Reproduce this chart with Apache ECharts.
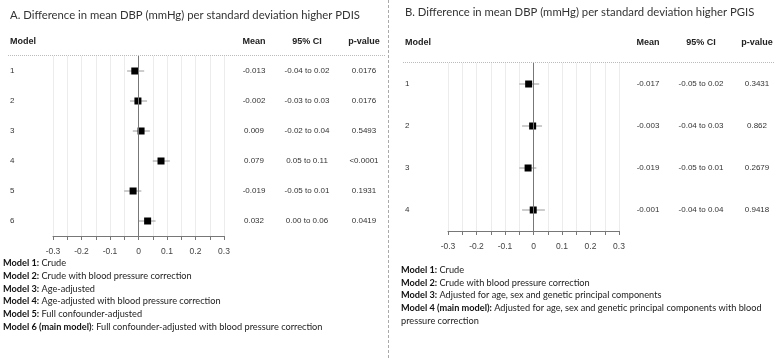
<!DOCTYPE html>
<html>
<head>
<meta charset="utf-8">
<script src="https://cdn.jsdelivr.net/npm/echarts@6/dist/echarts.min.js"></script>
<style>
  html, body { margin: 0; padding: 0; background: #fff; }
  #chart { width: 779px; height: 359px; }
</style>
</head>
<body>
<div id="chart"></div>
<script>
// panel A - per SD higher PDIS
const modelsA = ['1', '2', '3', '4', '5', '6'];
const meanA = [-0.013, -0.002, 0.009, 0.079, -0.019, 0.032];
const lowA = [-0.04, -0.03, -0.02, 0.05, -0.05, 0.00];
const highA = [0.02, 0.03, 0.04, 0.11, 0.01, 0.06];
const pA = ['0.0176', '0.0176', '0.5493', '<0.0001', '0.1931', '0.0419'];

// panel B - per SD higher PGIS
const modelsB = ['1', '2', '3', '4'];
const meanB = [-0.017, -0.003, -0.019, -0.001];
const lowB = [-0.05, -0.04, -0.05, -0.04];
const highB = [0.02, 0.03, 0.01, 0.04];
const pB = ['0.3431', '0.862', '0.2679', '0.9418'];

const xTicks = ['-0.3', '-0.2', '-0.1', '0', '0.1', '0.2', '0.3'];

const notesA = [
  ['Model 1:', ' Crude'],
  ['Model 2:', ' Crude with blood pressure correction'],
  ['Model 3:', ' Age-adjusted'],
  ['Model 4:', ' Age-adjusted with blood pressure correction'],
  ['Model 5:', ' Full confounder-adjusted'],
  ['Model 6 (main model)', ': Full confounder-adjusted with blood pressure correction']
];
const notesB = [
  ['Model 1:', ' Crude'],
  ['Model 2:', ' Crude with blood pressure correction'],
  ['Model 3:', ' Adjusted for age, sex and genetic principal components'],
  ['Model 4 (main model):', ' Adjusted for age, sex and genetic principal components with blood'],
  ['', 'pressure correction']
];

const TXT = '"Liberation Sans", Arial, sans-serif';
const CAL = 'Lato, "Open Sans", sans-serif';

const chart = echarts.init(document.getElementById('chart'));

function tickLabel(v) {
  const k = Math.round(v * 100);
  if (k % 10 !== 0) return '';
  const s = (k / 100).toString();
  return xTicks.indexOf(s) >= 0 ? s : '';
}

function xAxisFor(gi) {
  return {
    type: 'value', gridIndex: gi, min: -0.3, max: 0.3, interval: 0.05,
    axisLine: { show: true, onZero: false, lineStyle: { color: '#777', width: 1 } },
    axisTick: { show: true, length: 4, lineStyle: { color: '#777' } },
    axisLabel: { formatter: tickLabel, fontSize: 8.5, color: '#444', fontFamily: TXT, margin: 11 },
    splitLine: { show: true, lineStyle: { color: '#ececec', width: 1 } }
  };
}

function yAxisFor(gi, n) {
  return { type: 'value', gridIndex: gi, min: 0.5, max: n + 0.5, inverse: true, show: false };
}

function whiskers(gi, low, high) {
  return {
    type: 'custom', xAxisIndex: gi, yAxisIndex: gi, silent: true, z: 3,
    data: low.map((l, i) => [l, high[i], i + 1]),
    renderItem(params, api) {
      const a = api.coord([api.value(0), api.value(2)]);
      const b = api.coord([api.value(1), api.value(2)]);
      return { type: 'line', shape: { x1: a[0], y1: a[1], x2: b[0], y2: b[1] },
        style: { stroke: '#9a9a9a', lineWidth: 1 } };
    }
  };
}

function boxes(gi, mean) {
  return {
    type: 'scatter', xAxisIndex: gi, yAxisIndex: gi, silent: true, z: 4,
    symbol: 'rect', symbolSize: 7,
    itemStyle: { color: '#000', opacity: 1 },
    data: mean.map((m, i) => [m, i + 1]),
    markLine: {
      silent: true, symbol: 'none', label: { show: false },
      lineStyle: { color: '#777', type: 'solid', width: 1 },
      data: [{ xAxis: 0 }]
    }
  };
}

// table text columns aligned to the rows of the plot
function table(gi, models, mean, low, high, p, cols) {
  return {
    type: 'custom', xAxisIndex: gi, yAxisIndex: gi, silent: true, clip: false,
    data: models.map((m, i) => [0, i + 1]),
    renderItem(params, api) {
      const i = params.dataIndex;
      const y = api.coord([0, api.value(1)])[1];
      const t = (x, text, align) => ({
        type: 'text',
        style: { x: x, y: y, text: text, align: align, verticalAlign: 'middle',
          font: '8px ' + TXT, fill: '#333' }
      });
      return { type: 'group', children: [
        t(cols[0], models[i], 'left'),
        t(cols[1], mean[i].toFixed(3), 'center'),
        t(cols[2], low[i].toFixed(2) + ' to ' + high[i].toFixed(2), 'center'),
        t(cols[3], p[i], 'center')
      ] };
    }
  };
}

function header(cols, y) {
  const h = (x, text, align) => ({
    type: 'text', x: x, y: y,
    style: { text: text, align: align, verticalAlign: 'middle', font: 'bold 9px ' + TXT, fill: '#222' }
  });
  return [h(cols[0], 'Model', 'left'), h(cols[1], 'Mean', 'center'),
    h(cols[2], '95% CI', 'center'), h(cols[3], 'p-value', 'center')];
}

function notes(list, x, y0, dy) {
  return list.map((n, i) => ({
    type: 'text', x: x, y: y0 + i * dy,
    style: {
      text: (n[0] ? '{b|' + n[0] + '}' : '') + n[1],
      font: '9.2px ' + CAL, fill: '#222', verticalAlign: 'middle',
      rich: { b: { fontWeight: 'bold', fontSize: 9.2, fontFamily: CAL, fill: '#111' } }
    }
  }));
}

const colsA = [10, 254, 307, 364];
const colsB = [405, 648, 701, 757];

const graphics = [
  { type: 'text', x: 10, y: 15, style: { text: 'A. Difference in mean DBP (mmHg) per standard deviation higher PDIS',
    font: '11.3px ' + CAL, fill: '#333', verticalAlign: 'middle' } },
  { type: 'text', x: 405, y: 12, style: { text: 'B. Difference in mean DBP (mmHg) per standard deviation higher PGIS',
    font: '11.3px ' + CAL, fill: '#333', verticalAlign: 'middle' } },
  { type: 'line', shape: { x1: 8, y1: 55.5, x2: 385, y2: 55.5 }, style: { stroke: '#bbb', lineWidth: 1, lineDash: [1, 1] } },
  { type: 'line', shape: { x1: 403, y1: 62.5, x2: 775, y2: 62.5 }, style: { stroke: '#bbb', lineWidth: 1, lineDash: [1, 1] } },
  { type: 'line', shape: { x1: 388.5, y1: 0, x2: 388.5, y2: 359 }, style: { stroke: '#aaa', lineWidth: 1, lineDash: [3, 2] } }
].concat(header(colsA, 42), header(colsB, 43), notes(notesA, 3, 263, 12.8), notes(notesB, 401, 270, 12.7));

chart.setOption({
  animation: false,
  backgroundColor: '#fff',
  grid: [
    { left: 53, width: 171, top: 56, height: 180 },
    { left: 448, width: 171, top: 63, height: 168 }
  ],
  xAxis: [xAxisFor(0), xAxisFor(1)],
  yAxis: [yAxisFor(0, modelsA.length), yAxisFor(1, modelsB.length)],
  series: [
    whiskers(0, lowA, highA), boxes(0, meanA), table(0, modelsA, meanA, lowA, highA, pA, colsA),
    whiskers(1, lowB, highB), boxes(1, meanB), table(1, modelsB, meanB, lowB, highB, pB, colsB)
  ],
  graphic: graphics
});
</script>
</body>
</html>
